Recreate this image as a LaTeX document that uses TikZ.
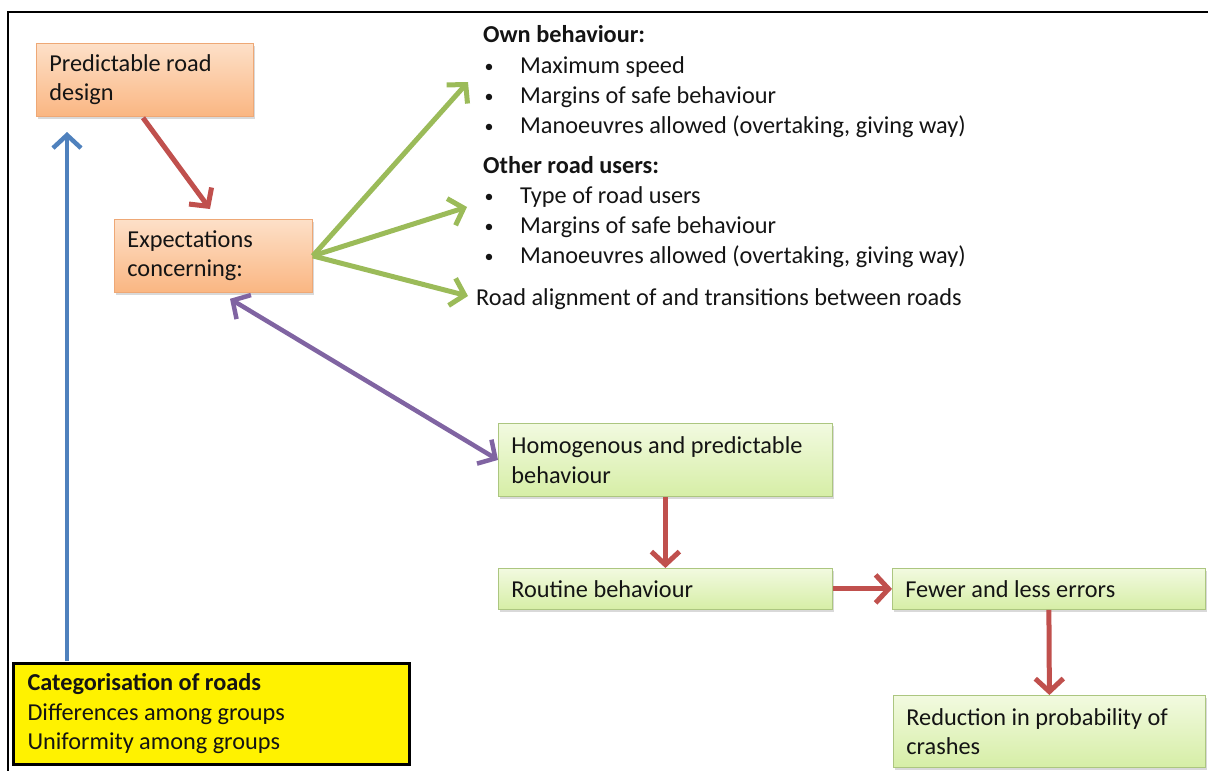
\documentclass[tikz,border=0pt]{standalone}
\usepackage{fontspec}
\setmainfont{Carlito}
\usetikzlibrary{arrows.meta,calc,shadows}

\definecolor{txt}{RGB}{20,20,20}
\definecolor{arrred}{RGB}{192,80,77}
\definecolor{arrgreen}{RGB}{155,187,89}
\definecolor{arrblue}{RGB}{79,129,189}
\definecolor{arrpurple}{RGB}{128,100,162}
\definecolor{orgtop}{RGB}{253,224,200}
\definecolor{orgbot}{RGB}{250,182,130}
\definecolor{orgline}{RGB}{238,168,118}
\definecolor{grntop}{RGB}{242,250,224}
\definecolor{grnbot}{RGB}{214,238,166}
\definecolor{grnline}{RGB}{172,198,128}

\tikzset{barbtip/.tip={Straight Barb[length=13pt,width=28pt]}}
% plain ragged-right lines with natural word spaces
\newcommand{\natrag}{\rightskip=0pt plus 1fil\spaceskip=0pt\xspaceskip=0pt\relax}

\begin{document}
\begin{tikzpicture}[x=1pt,y=-1pt,
  every node/.style={font=\fontsize{24.3}{29.5}\selectfont, text=txt},
  box/.style={rectangle, draw, line width=0.8pt, anchor=north west,
    align=left, inner xsep=13pt, inner ysep=0pt},
  softshadow/.style={drop shadow={shadow xshift=1.5pt, shadow yshift=-2.5pt,
    opacity=0.25, fill=black!60}},
  orangebox/.style={box, softshadow, draw=orgline, top color=orgtop, bottom color=orgbot},
  greenbox/.style={box, softshadow, draw=grnline, top color=grntop, bottom color=grnbot},
  yellowbox/.style={box, draw=black, line width=3pt, fill=yellow, inner xsep=14pt},
  listtext/.style={anchor=west, inner sep=0pt, text height=17pt, text depth=5pt},
  bulletmark/.style={anchor=center, inner sep=0pt, font=\fontsize{18}{20}\selectfont},
  redlink/.style={draw=arrred, line width=5pt, -{barbtip}},
  greenlink/.style={draw=arrgreen, line width=5pt, -{barbtip}},
  bluelink/.style={draw=arrblue, line width=4.5pt, -{barbtip}},
  purplelink/.style={draw=arrpurple, line width=4.5pt, {barbtip}-{barbtip}},
]
\useasboundingbox (0,0) rectangle (1208,771);

% open frame: top and left edges
\draw[line width=2.4pt] (8,771) -- (8,12) -- (1208,12);

% boxes
\node[orangebox, text width=191pt, minimum height=73pt] (pred) at (36,43)
  {\natrag Predictable road\\design};
\node[orangebox, text width=172pt, minimum height=73pt] (expect) at (114,219)
  {\natrag Expectations\\concerning:};
\node[greenbox, text width=308pt, minimum height=73pt] (homog) at (498,423)
  {\natrag Homogenous and predictable\\behaviour};
\node[greenbox, text width=308pt, minimum height=41pt] (routine) at (498,568)
  {\natrag Routine behaviour};
\node[greenbox, text width=287pt, minimum height=41pt] (fewer) at (892,568)
  {\natrag Fewer and less errors};
\node[greenbox, text width=286pt, minimum height=72pt] (reduce) at (893,695)
  {\natrag Reduction in probability of\\crashes};
\node[yellowbox, text width=368pt, minimum height=101pt] (categ) at (12,662)
  {\natrag\textbf{Categorisation of roads}\\Differences among groups\\Uniformity among groups};

% expectation lists
\node[listtext] (own) at (483,36) {\textbf{Own behaviour:}};
\node[bulletmark] (b1) at (489,68) {\textbullet};
\node[listtext] (l1) at (520,67) {Maximum speed};
\node[bulletmark] (b2) at (489,98) {\textbullet};
\node[listtext] (l2) at (520,97) {Margins of safe behaviour};
\node[bulletmark] (b3) at (489,128) {\textbullet};
\node[listtext] (l3) at (520,127) {Manoeuvres allowed (overtaking, giving way)};
\node[listtext] (other) at (483,167) {\textbf{Other road users:}};
\node[bulletmark] (b4) at (489,198) {\textbullet};
\node[listtext] (l4) at (520,197) {Type of road users};
\node[bulletmark] (b5) at (489,228) {\textbullet};
\node[listtext] (l5) at (520,227) {Margins of safe behaviour};
\node[bulletmark] (b6) at (489,258) {\textbullet};
\node[listtext] (l6) at (520,257) {Manoeuvres allowed (overtaking, giving way)};
\node[listtext] (road) at (476,299) {Road alignment of and transitions between roads};

% arrow end points
\coordinate (t1) at (468,82);
\coordinate (t2) at (467,207);
\coordinate (t3) at (468,296);
\coordinate (bluetip) at (67,132);

% connectors
\draw[redlink] ($(pred.south west)+(107,1)$) -- ($(expect.north west)+(96,-10)$);
\draw[greenlink] (expect.east) -- (t1);
\draw[greenlink] (expect.east) -- (t2);
\draw[greenlink] (expect.east) -- (t3);
\draw[purplelink] ($(expect.south west)+(116,6)$) -- (homog.west);
\draw[redlink] (homog.south) -- (routine.north);
\draw[redlink] (routine.east) -- (fewer.west);
\draw[redlink] (fewer.south) -- (reduce.north);
\draw[bluelink] ($(categ.north west)+(55,-1)$) -- (bluetip);
\end{tikzpicture}
\end{document}
